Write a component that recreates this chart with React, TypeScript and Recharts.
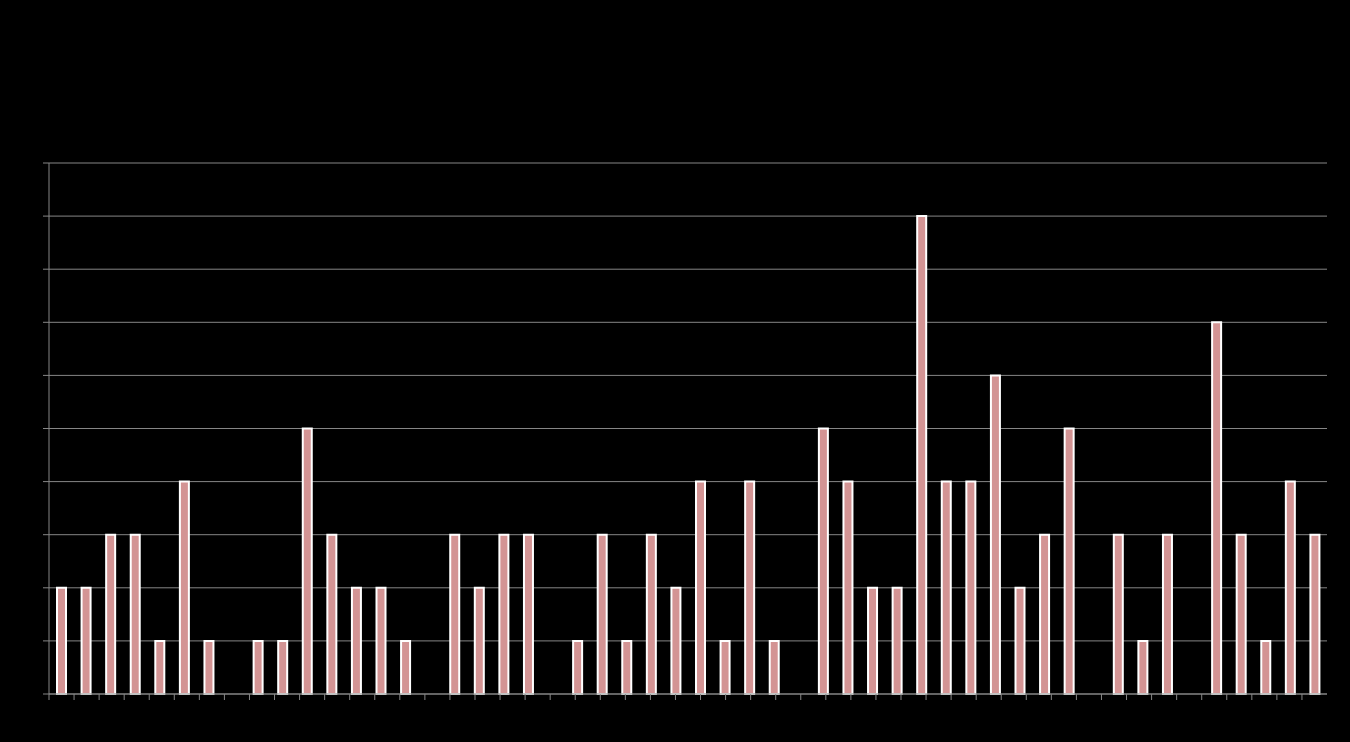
import { BarChart, Bar, XAxis, YAxis, CartesianGrid } from "recharts";

const categories = [
  "1", "2", "3", "4", "5", "6", "7", "8", "9", "10",
  "11", "12", "13", "14", "15", "16", "17", "18", "19", "20",
  "21", "22", "23", "24", "25", "26", "27", "28", "29", "30",
  "31", "32", "33", "34", "35", "36", "37", "38", "39", "40",
  "41", "42", "43", "44", "45", "46", "47", "48", "49", "50",
  "51", "52",
];

const counts = [
  2, 2, 3, 3, 1, 4, 1, 0, 1, 1,
  5, 3, 2, 2, 1, 0, 3, 2, 3, 3,
  0, 1, 3, 1, 3, 2, 4, 1, 4, 1,
  0, 5, 4, 2, 2, 9, 4, 4, 6, 2,
  3, 5, 0, 3, 1, 3, 0, 7, 3, 1,
  4, 3,
];

const yTicks = [0, 1, 2, 3, 4, 5, 6, 7, 8, 9, 10];

// boundary ticks between categories (0..52)
const boundaryTicks = [
  0, 1, 2, 3, 4, 5, 6, 7, 8, 9, 10, 11, 12, 13, 14, 15, 16, 17, 18, 19, 20,
  21, 22, 23, 24, 25, 26, 27, 28, 29, 30, 31, 32, 33, 34, 35, 36, 37, 38, 39,
  40, 41, 42, 43, 44, 45, 46, 47, 48, 49, 50, 51, 52,
];

const data = categories.map((name, i) => ({ name, value: counts[i] }));

const GRID = "#868686";

const NoLabel = () => <g />;

const App = () => {
  return (
    <div
      style={{
        position: "absolute",
        left: 0,
        top: 0,
        width: 1350,
        height: 742,
        background: "#000",
      }}
    >
      <BarChart
        width={1350}
        height={742}
        data={data}
        margin={{ top: 163, right: 23, bottom: 42, left: 43 }}
        barCategoryGap={0}
      >
        <CartesianGrid vertical={false} stroke={GRID} strokeWidth={1} />
        <XAxis dataKey="name" hide height={0} />
        <XAxis
          xAxisId="bounds"
          type="number"
          domain={[0, 52]}
          ticks={boundaryTicks}
          allowDataOverflow
          tick={<NoLabel />}
          tickSize={6}
          height={6}
          axisLine={{ stroke: GRID }}
          tickLine={{ stroke: GRID }}
        />
        <YAxis
          domain={[0, 10]}
          ticks={yTicks}
          width={6}
          tick={<NoLabel />}
          tickSize={6}
          axisLine={{ stroke: GRID }}
          tickLine={{ stroke: GRID }}
        />
        <Bar
          dataKey="value"
          fill="#d39494"
          stroke="#ffffff"
          strokeWidth={2}
          barSize={9}
          isAnimationActive={false}
        />
      </BarChart>
    </div>
  );
};

export default App;
